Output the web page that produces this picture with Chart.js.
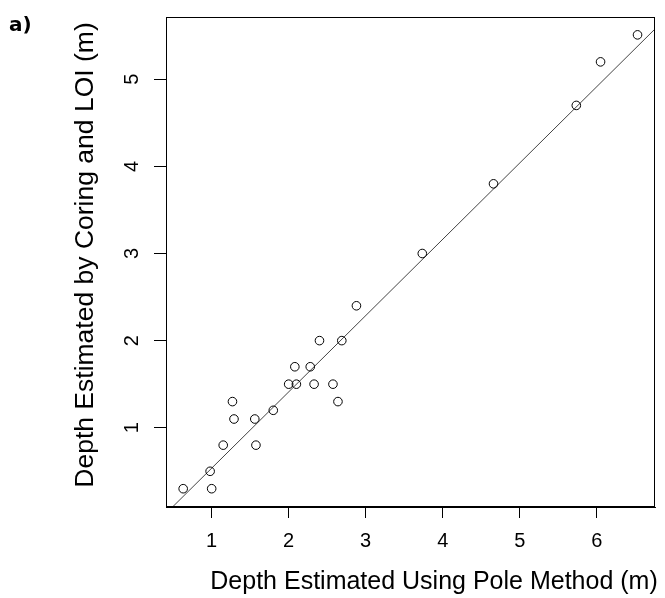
<!DOCTYPE html>
<html>
<head>
<meta charset="utf-8">
<script src="https://cdn.jsdelivr.net/npm/chart.js@4.4.1/dist/chart.umd.min.js"></script>
<style>
  html, body { margin: 0; padding: 0; background: #fff; }
  #wrap { width: 665px; height: 598px; position: relative; }
</style>
</head>
<body>
<div id="wrap"><canvas id="chart"></canvas></div>
<script>
// Pole method depth (x) vs coring + LOI depth (y), metres
const poleDepth = [0.63, 1.00, 0.98, 1.15, 1.575, 1.27, 1.29, 1.56, 1.80, 2.64, 2.00, 2.10, 2.33, 2.575, 2.08, 2.28, 2.40, 2.69, 2.88, 3.735, 4.66, 5.735, 6.05, 6.53];
const coreDepth = [0.30, 0.30, 0.50, 0.80, 0.80, 1.30, 1.10, 1.10, 1.20, 1.30, 1.50, 1.50, 1.50, 1.50, 1.70, 1.70, 2.00, 2.00, 2.40, 3.00, 3.80, 4.70, 5.20, 5.51];

// fitted line, end points
const fitX = [0.40, 6.76];
const fitY = [0.01, 5.58];

const xTicks = [1, 2, 3, 4, 5, 6];
const yTicks = [1, 2, 3, 4, 5];

const xTitle = 'Depth Estimated Using Pole Method (m)';
const yTitle = 'Depth Estimated by Coring and LOI (m)';
const panelLabel = 'a)';

const FONT = '"Liberation Sans", Arial, sans-serif';

// frame + rotated y labels + titles, R style
const extras = {
  id: 'extras',
  afterDraw(chart) {
    const ctx = chart.ctx;
    const a = chart.chartArea;
    const ys = chart.scales.y;
    ctx.save();
    ctx.strokeStyle = '#000';
    ctx.lineWidth = 1;
    ctx.strokeRect(a.left + 0.5, a.top + 0.5, a.right - a.left - 1, a.bottom - a.top - 1);

    ctx.fillStyle = '#000';
    ctx.font = '20px ' + FONT;
    ctx.textAlign = 'center';
    ctx.textBaseline = 'middle';
    yTicks.forEach(v => {
      const py = ys.getPixelForValue(v);
      ctx.save();
      ctx.translate(132, py);
      ctx.rotate(-Math.PI / 2);
      ctx.fillText(String(v), 0, 0);
      ctx.restore();
    });

    ctx.textBaseline = 'alphabetic';
    ctx.font = '25px ' + FONT;
    ctx.fillText(xTitle, 434, 589);

    ctx.save();
    ctx.translate(93, 255);
    ctx.rotate(-Math.PI / 2);
    ctx.font = '26.5px ' + FONT;
    ctx.fillText(yTitle, 0, 0);
    ctx.restore();

    ctx.font = 'bold 20px "DejaVu Sans", ' + FONT;
    ctx.textAlign = 'left';
    ctx.textBaseline = 'middle';
    ctx.fillText(panelLabel, 9, 26);
    ctx.restore();
  }
};

new Chart(document.getElementById('chart'), {
  type: 'scatter',
  data: {
    datasets: [
      {
        label: 'obs',
        data: poleDepth.map((x, i) => ({ x: x, y: coreDepth[i] })),
        pointStyle: 'circle',
        pointRadius: 4.3,
        pointBorderWidth: 1,
        pointBorderColor: '#000',
        pointBackgroundColor: 'rgba(0,0,0,0)',
        showLine: false
      },
      {
        label: 'fit',
        type: 'line',
        data: fitX.map((x, i) => ({ x: x, y: fitY[i] })),
        borderColor: '#444',
        borderWidth: 1,
        pointRadius: 0,
        fill: false,
        clip: 0
      }
    ]
  },
  options: {
    responsive: true,
    maintainAspectRatio: false,
    animation: false,
    layout: { padding: { top: 17, right: 10, left: 0, bottom: 0 } },
    plugins: {
      legend: { display: false },
      tooltip: { enabled: false }
    },
    scales: {
      x: {
        type: 'linear',
        min: 0.407,
        max: 6.757,
        afterBuildTicks: s => { s.ticks = xTicks.map(v => ({ value: v })); },
        afterFit: s => { s.height = 91; },
        grid: { drawOnChartArea: false, drawTicks: true, tickLength: 11, color: '#000' },
        border: { display: true, color: '#000' },
        ticks: {
          color: '#000',
          font: { family: FONT, size: 20 },
          padding: 11,
          maxRotation: 0
        }
      },
      y: {
        type: 'linear',
        min: 0.09,
        max: 5.715,
        afterBuildTicks: s => { s.ticks = yTicks.map(v => ({ value: v })); },
        afterFit: s => { s.width = 166; },
        grid: { drawOnChartArea: false, drawTicks: true, tickLength: 12, color: '#000' },
        border: { display: true, color: '#000' },
        ticks: { display: false }
      }
    }
  },
  plugins: [extras]
});
</script>
</body>
</html>
